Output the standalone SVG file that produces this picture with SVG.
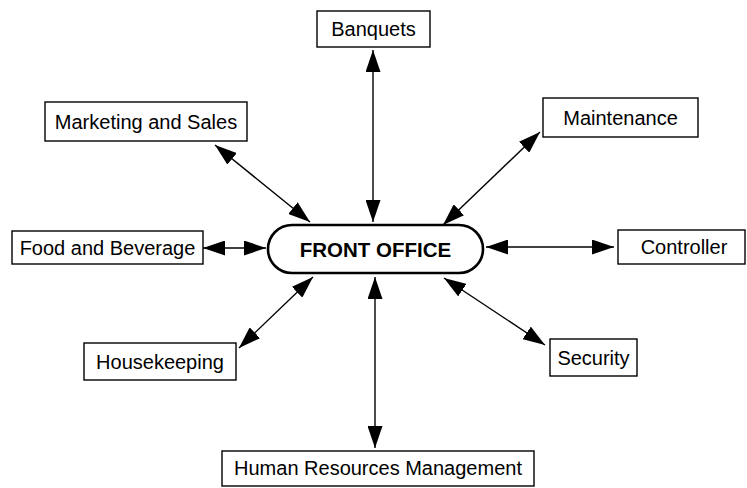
<svg xmlns="http://www.w3.org/2000/svg" width="747" height="488" viewBox="0 0 747 488">
<style>
.box{fill:#fff;stroke:#000;stroke-width:1.4}
.pill{fill:#fff;stroke:#000;stroke-width:2.6}
.lbl{font-family:"Liberation Sans",Arial,sans-serif;font-size:20px;fill:#000;text-anchor:middle}
.big{font-family:"Liberation Sans",Arial,sans-serif;font-size:20.5px;font-weight:bold;fill:#000;text-anchor:middle}
.con{stroke:#000;stroke-width:1.4;fill:none;marker-start:url(#ah);marker-end:url(#ah)}
</style>
<defs>
<marker id="ah" markerUnits="userSpaceOnUse" markerWidth="22" markerHeight="15" refX="22" refY="7.5" orient="auto-start-reverse" viewBox="0 0 22 15">
<path d="M0,0 L22,7.5 L0,15 z" fill="#000"/>
</marker>
</defs>
<rect width="747" height="488" fill="#fff"/>
<g id="connectors">
<line class="con" x1="373" y1="50" x2="373" y2="222"/>
<line class="con" x1="375" y1="277" x2="375" y2="448"/>
<line class="con" x1="215" y1="145" x2="310" y2="222"/>
<line class="con" x1="540" y1="132" x2="443" y2="225"/>
<line class="con" x1="203" y1="248" x2="266" y2="248"/>
<line class="con" x1="486" y1="247" x2="614" y2="247"/>
<line class="con" x1="239" y1="348" x2="313" y2="277"/>
<line class="con" x1="545" y1="345" x2="444" y2="278"/>
</g>
<g id="front-office">
<rect class="pill" x="268" y="225" width="215" height="48" rx="24" ry="24"/>
<text class="big" x="375.5" y="257">FRONT OFFICE</text>
</g>
<g id="banquets">
<rect class="box" x="317" y="11" width="113" height="36"/>
<text class="lbl" x="373.5" y="36">Banquets</text>
</g>
<g id="marketing-and-sales">
<rect class="box" x="45" y="102" width="202" height="39"/>
<text class="lbl" x="146" y="129">Marketing and Sales</text>
</g>
<g id="maintenance">
<rect class="box" x="543" y="98" width="155" height="39"/>
<text class="lbl" x="620.5" y="125">Maintenance</text>
</g>
<g id="food-and-beverage">
<rect class="box" x="12" y="231" width="191" height="33"/>
<text class="lbl" x="107.5" y="254.5">Food and Beverage</text>
</g>
<g id="controller">
<rect class="box" x="618" y="230" width="127" height="34"/>
<text class="lbl" x="684" y="254">Controller</text>
</g>
<g id="housekeeping">
<rect class="box" x="84" y="343" width="152" height="37"/>
<text class="lbl" x="160" y="368.5">Housekeeping</text>
</g>
<g id="security">
<rect class="box" x="550" y="339" width="87" height="37"/>
<text class="lbl" x="593.5" y="364.5">Security</text>
</g>
<g id="human-resources-management">
<rect class="box" x="222" y="451" width="312" height="35"/>
<text class="lbl" x="378" y="475">Human Resources Management</text>
</g>
</svg>
